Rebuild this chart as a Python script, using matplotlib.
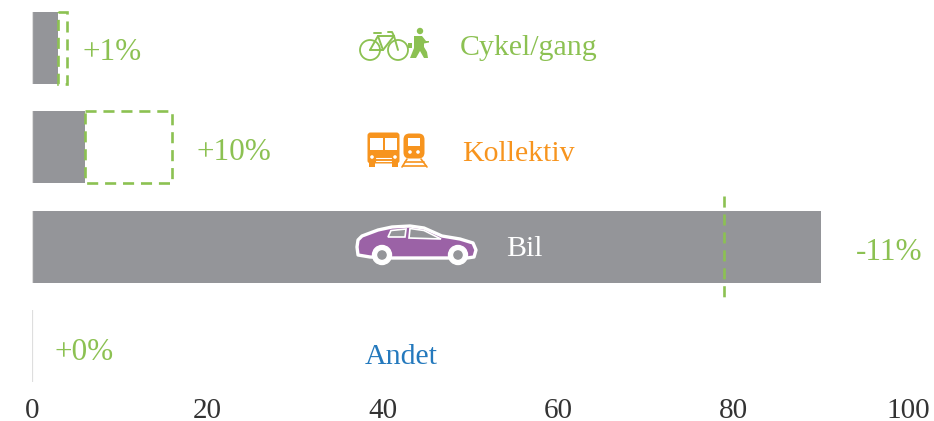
import matplotlib
matplotlib.use("Agg")
import matplotlib.pyplot as plt
from matplotlib.patches import Rectangle, Circle, Polygon, FancyBboxPatch

plt.rcParams['font.family'] = ['Liberation Serif', 'DejaVu Serif']

# data
categories = ["Cykel/gang", "Kollektiv", "Bil", "Andet"]
current = [3, 6, 90, 0]
future = [4, 16, 79, 0]
changes = ["+1%", "+10%", "-11%", "+0%"]
ticks = [0, 20, 40, 60, 80, 100]

GREY = "#949599"
GREEN = "#8cc152"
ORANGE = "#f7941e"
PURPLE = "#9b62a6"
BLUE = "#2479bd"
DASH = (0, (4.2, 2.6))

# pixel positions of the labels
name_pos = [(460, 48), (462, 154), (506, 249), (365, 357)]
name_cols = [GREEN, ORANGE, "white", BLUE]
change_pos = [(83, 53), (197, 152), (856, 253), (55, 353)]

fig = plt.figure(figsize=(9.34, 4.21), dpi=100)
ax = fig.add_axes([32.2/934, 1 - 396/421, 876/934, 396/421])
ax.set_xlim(0, 100)
ax.set_ylim(3.5, -0.483)
ax.patch.set_alpha(0)

y = list(range(len(categories)))
ax.barh(y, current, height=0.725, color=GREY, zorder=2)
ax.vlines([0] * len(y), [i - 0.3625 for i in y], [i + 0.3625 for i in y], color="#dedede", lw=1.6, zorder=3)

# dashed outline shows the future share
for i in y:
    if future[i] > current[i]:
        ax.add_patch(Rectangle((current[i], i - 0.3625), future[i] - current[i], 0.725, fill=False,
                               ec=GREEN, lw=1.9, ls=DASH, zorder=4))
    elif future[i] < current[i]:
        ax.plot([future[i], future[i]], [i - 0.51, i + 0.5], color=GREEN, lw=1.9, ls=DASH, zorder=4)

for s in ax.spines.values():
    s.set_visible(False)
ax.set_yticks([])
ax.set_xticks(ticks)
ax.tick_params(axis="x", length=0, pad=1.5, labelsize=21, labelcolor="#333333")

# overlay in pixels for labels and pictograms
ov = fig.add_axes([0, 0, 1, 1])
ov.set_xlim(0, 934)
ov.set_ylim(421, 0)
ov.axis("off")
ov.patch.set_alpha(0)

for name, pos, col in zip(categories, name_pos, name_cols):
    ov.text(pos[0], pos[1], name, color=col, fontsize=21.5, va="center", ha="left")
for ch, pos in zip(changes, change_pos):
    ov.text(pos[0], pos[1], ch, color=GREEN, fontsize=22.5, va="center", ha="left")


def line(pts, col, lw=1.4):
    ov.plot([p[0] for p in pts], [p[1] for p in pts], color=col, lw=lw, solid_capstyle="round", solid_joinstyle="round")


# bicycle
for cx in (370, 398):
    ov.add_patch(Circle((cx, 50), 10, fill=False, ec=GREEN, lw=1.3))
line([(370, 50), (378, 36), (394, 36), (398, 50)], GREEN)
line([(370, 50), (383, 50), (394, 36)], GREEN)
line([(378, 36), (383, 50)], GREEN)
line([(374, 33), (381, 33)], GREEN)
line([(388, 32), (392, 32), (394, 36)], GREEN)

# walker
ov.add_patch(Circle((420, 31), 3.2, color=GREEN, lw=0))
ov.add_patch(Polygon([(414, 36), (422, 36), (426, 41), (429, 41), (429, 42.5), (424, 43.5), (424, 47),
                      (427, 52), (428, 58), (424, 58), (420, 51), (416, 58), (410, 58), (414, 48)],
                     closed=True, color=GREEN, lw=0))
ov.add_patch(Rectangle((408, 43), 4, 5, color=GREEN, lw=0))

# bus
ov.add_patch(FancyBboxPatch((369, 134), 29, 28, boxstyle="round,pad=1.5,rounding_size=3", color=ORANGE, lw=0))
ov.add_patch(Rectangle((370, 138), 12.5, 12, color="white", lw=0))
ov.add_patch(Rectangle((384.5, 138), 12.5, 12, color="white", lw=0))
for cx in (372, 395):
    ov.add_patch(Rectangle((cx - 3, 162), 6, 5, color=ORANGE, lw=0))
    ov.add_patch(Circle((cx, 157), 1.8, color="white", lw=0))
line([(376, 158), (391, 158)], "white", 0.8)
line([(376, 160.5), (391, 160.5)], "white", 0.8)

# train
ov.add_patch(FancyBboxPatch((405, 135), 18, 22, boxstyle="round,pad=1.5,rounding_size=6", color=ORANGE, lw=0))
ov.add_patch(Rectangle((408, 138), 12, 8, color="white", lw=0))
for cx in (410, 418):
    ov.add_patch(Circle((cx, 152), 1.8, color="white", lw=0))
line([(407, 159), (402, 167)], ORANGE, 1.2)
line([(421, 159), (427, 167)], ORANGE, 1.2)
line([(405, 162), (424, 162)], ORANGE, 1.2)
line([(403, 165.5), (426, 165.5)], ORANGE, 1.2)

# car
car = [(358, 240), (362, 236), (378, 230), (392, 227), (410, 226), (424, 228), (442, 236), (460, 239),
       (473, 243), (476, 250), (474, 257), (467, 258), (447, 258), (392, 258), (370, 257), (358, 255), (357, 247)]
ov.add_patch(Polygon(car, closed=True, fc=PURPLE, ec="white", lw=2.4, joinstyle="round", zorder=5))
ov.add_patch(Polygon([(391, 230.5), (406, 229), (405, 237), (388, 237)], closed=True, fc=GREY, ec="white", lw=1.2, zorder=6))
ov.add_patch(Polygon([(410, 228.5), (424, 230.5), (441, 239), (409, 238)], closed=True, fc=GREY, ec="white", lw=1.2, zorder=6))
for cx in (382, 458):
    ov.add_patch(Circle((cx, 255), 9.5, fc="white", ec="white", zorder=7))
    ov.add_patch(Circle((cx, 255), 5.5, fc=GREY, ec="white", zorder=8))

fig.savefig("out.png", dpi=100)
